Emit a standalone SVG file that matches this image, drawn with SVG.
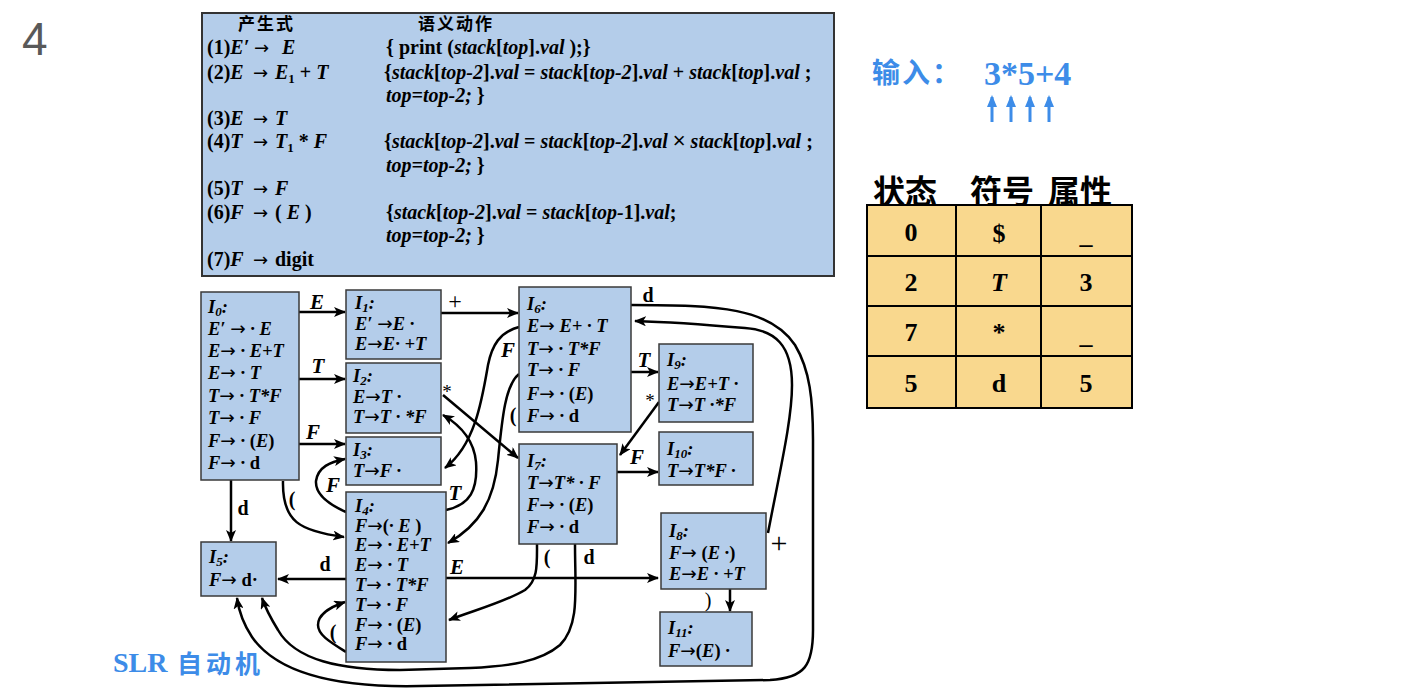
<svg xmlns="http://www.w3.org/2000/svg" width="1410" height="696" viewBox="0 0 1410 696">
<style>
.pt{font-family:"Liberation Serif",serif;font-weight:bold;font-size:20px;fill:#000}
.i{font-style:italic}
.u{font-style:normal}
.ar{font-family:"DejaVu Sans",sans-serif;font-weight:normal;font-style:normal}
.cjk{font-family:"Liberation Serif","Noto Sans CJK SC",sans-serif;font-weight:bold}
.bx{font-family:"Liberation Serif",serif;font-weight:bold;font-style:italic;font-size:18.5px;fill:#000}
.s{font-size:13px}
.node{fill:#b4cdea;stroke:#3a3a3a;stroke-width:1.5}
.lbl{font-family:"Liberation Serif",serif;font-weight:bold;font-style:italic;font-size:21px;fill:#000}
.lbu{font-family:"Liberation Serif",serif;font-weight:bold;font-size:20px;fill:#000}
.sym{font-family:"Liberation Serif",serif;font-weight:normal;fill:#000}
.edge{fill:none;stroke:#000;stroke-width:2.5}
.cell{fill:#f9d88e;stroke:#000;stroke-width:2}
.ct{font-family:"Liberation Serif",serif;font-weight:bold;font-size:26px;text-anchor:middle;fill:#000}
.hd{font-family:"Noto Sans CJK SC",sans-serif;font-weight:bold;font-size:32px;fill:#000}
.blue{fill:#3d8ce8}
</style>
<defs>
<marker id="a" viewBox="0 0 12 10" refX="11" refY="5" markerWidth="12" markerHeight="10" orient="auto" markerUnits="userSpaceOnUse"><path d="M0,0 L12,5 L0,10 L3,5 Z" fill="#000"/></marker>
<marker id="b" viewBox="0 0 12 10" refX="10" refY="5" markerWidth="12" markerHeight="10" orient="auto" markerUnits="userSpaceOnUse"><path d="M0,0 L12,5 L0,10 Z" fill="#3d8ce8"/></marker>
</defs>

<text x="22" y="55" font-family="Liberation Sans, sans-serif" font-size="46" fill="#595959">4</text>

<g id="productions">
<rect x="202" y="13" width="632" height="263" fill="#b4cdea" stroke="#333" stroke-width="2"/>
<text class="cjk" x="238" y="30" font-size="17" letter-spacing="2">产生式</text>
<text class="cjk" x="418" y="30" font-size="17" letter-spacing="2">语义动作</text>
<text class="pt" y="54"><tspan x="207">(1)</tspan><tspan class="i">E′</tspan><tspan x="254" class="ar" font-size="18">→</tspan><tspan x="282" class="i">E</tspan></text>
<text class="pt" x="386" y="54">{ print (<tspan class="i">stack</tspan>[<tspan class="i">top</tspan>].<tspan class="i">val</tspan> );}</text>
<text class="pt" y="79"><tspan x="207">(2)</tspan><tspan class="i">E</tspan><tspan x="253" class="ar" font-size="18">→</tspan><tspan x="275" class="i">E</tspan><tspan class="s" dy="4">1</tspan><tspan dy="-4"> + </tspan><tspan class="i">T</tspan></text>
<text class="pt" x="384" y="79">{<tspan class="i">stack</tspan>[<tspan class="i">top-2</tspan>].<tspan class="i">val</tspan> = <tspan class="i">stack</tspan>[<tspan class="i">top-2</tspan>].<tspan class="i">val</tspan> + <tspan class="i">stack</tspan>[<tspan class="i">top</tspan>].<tspan class="i">val</tspan> ;</text>
<text class="pt" x="386" y="102"><tspan class="i">top=top-2;</tspan> }</text>
<text class="pt" y="125"><tspan x="207">(3)</tspan><tspan class="i">E</tspan><tspan x="253" class="ar" font-size="18">→</tspan><tspan x="275" class="i">T</tspan></text>
<text class="pt" y="148"><tspan x="207">(4)</tspan><tspan class="i">T</tspan><tspan x="253" class="ar" font-size="18">→</tspan><tspan x="275" class="i">T</tspan><tspan class="s" dy="4">1</tspan><tspan dy="-4"> * </tspan><tspan class="i">F</tspan></text>
<text class="pt" x="384" y="148">{<tspan class="i">stack</tspan>[<tspan class="i">top-2</tspan>].<tspan class="i">val</tspan> = <tspan class="i">stack</tspan>[<tspan class="i">top-2</tspan>].<tspan class="i">val</tspan> <tspan font-family="Liberation Sans, sans-serif" font-weight="normal" font-size="22">×</tspan> <tspan class="i">stack</tspan>[<tspan class="i">top</tspan>].<tspan class="i">val</tspan> ;</text>
<text class="pt" x="386" y="172"><tspan class="i">top=top-2;</tspan> }</text>
<text class="pt" y="195"><tspan x="207">(5)</tspan><tspan class="i">T</tspan><tspan x="253" class="ar" font-size="18">→</tspan><tspan x="275" class="i">F</tspan></text>
<text class="pt" y="219"><tspan x="207">(6)</tspan><tspan class="i">F</tspan><tspan x="253" class="ar" font-size="18">→</tspan><tspan x="275">( </tspan><tspan class="i">E</tspan><tspan> )</tspan></text>
<text class="pt" x="386" y="219">{<tspan class="i">stack</tspan>[<tspan class="i">top-2</tspan>].<tspan class="i">val</tspan> = <tspan class="i">stack</tspan>[<tspan class="i">top-</tspan>1].<tspan class="i">val</tspan>;</text>
<text class="pt" x="386" y="242"><tspan class="i">top=top-2;</tspan> }</text>
<text class="pt" y="266"><tspan x="207">(7)</tspan><tspan class="i">F</tspan><tspan x="253" class="ar" font-size="18">→</tspan><tspan x="275">digit</tspan></text>
</g>

<g id="connectors">
<path class="edge" d="M299,312 H345" marker-end="url(#a)"/>
<path class="edge" d="M299,379 H345" marker-end="url(#a)"/>
<path class="edge" d="M299,444 H345" marker-end="url(#a)"/>
<path class="edge" d="M231,480 V541" marker-end="url(#a)"/>
<path class="edge" d="M283,481 C282,522 300,531 344,537" marker-end="url(#a)"/>
<path class="edge" d="M441,313 H518" marker-end="url(#a)"/>
<path class="edge" d="M443,395 L518,458" marker-end="url(#a)"/>
<path class="edge" d="M446,510 C470,505 478,490 476,462 C474,440 460,425 443,415" marker-end="url(#a)"/>
<path class="edge" d="M346,512 C330,505 315,495 316,481 C318,467 330,462 345,459" marker-end="url(#a)"/>
<path class="edge" d="M519,327 C500,332 492,345 488,365 C482,400 475,445 445,468" marker-end="url(#a)"/>
<path class="edge" d="M519,374 C505,385 502,420 498,460 C494,500 480,525 448,543" marker-end="url(#a)"/>
<path class="edge" d="M631,372 H658" marker-end="url(#a)"/>
<path class="edge" d="M659,402 L620,455" marker-end="url(#a)"/>
<path class="edge" d="M617,472 H658" marker-end="url(#a)"/>
<path class="edge" d="M631,305 C720,305 770,308 795,345 C810,370 813,400 813,440 L813,630 C813,665 805,678 770,680 L420,686 C330,688 275,670 252,637 C244,625 239,612 237,598" marker-end="url(#a)"/>
<path class="edge" d="M768,533 C780,470 792,420 792,385 C792,345 775,330 745,328 C710,325 670,322 635,321" marker-end="url(#a)"/>
<path class="edge" d="M446,578 H658" marker-end="url(#a)"/>
<path class="edge" d="M346,579 H278" marker-end="url(#a)"/>
<path class="edge" d="M730,589 V611" marker-end="url(#a)"/>
<path class="edge" d="M537,544 C537,565 538,580 525,590 C505,602 475,610 449,620" marker-end="url(#a)"/>
<path class="edge" d="M575,544 C575,590 580,625 560,645 C540,662 510,666 470,668 L400,670 C340,670 295,660 278,630 C270,617 265,607 262,598" marker-end="url(#a)"/>
<path class="edge" d="M346,652 C330,642 318,635 318,625 C318,615 330,607 345,602" marker-end="url(#a)"/>
<text class="lbl" x="317" y="309" text-anchor="middle">E</text>
<text class="lbl" x="318" y="373" text-anchor="middle">T</text>
<text class="lbl" x="313" y="439" text-anchor="middle">F</text>
<text class="lbu" x="243" y="515" text-anchor="middle">d</text>
<text class="lbu" x="292" y="506" text-anchor="middle">(</text>
<text class="sym" x="455" y="309" text-anchor="middle" style="font-size:24px">+</text>
<text class="sym" x="447" y="398" text-anchor="middle" style="font-size:19px">*</text>
<text class="lbl" x="455" y="500" text-anchor="middle">T</text>
<text class="lbl" x="333" y="492" text-anchor="middle">F</text>
<text class="lbl" x="508" y="357" text-anchor="middle">F</text>
<text class="lbu" x="513" y="422" text-anchor="middle">(</text>
<text class="lbl" x="644" y="367" text-anchor="middle">T</text>
<text class="sym" x="650" y="407" text-anchor="middle" style="font-size:19px">*</text>
<text class="lbl" x="637" y="464" text-anchor="middle">F</text>
<text class="lbu" x="648" y="302" text-anchor="middle">d</text>
<text class="sym" x="779" y="553" text-anchor="middle" style="font-size:30px">+</text>
<text class="lbl" x="457" y="574" text-anchor="middle">E</text>
<text class="lbu" x="325" y="571" text-anchor="middle">d</text>
<text class="sym" x="708" y="607" text-anchor="middle" style="font-size:20px">)</text>
<text class="lbu" x="547" y="564" text-anchor="middle">(</text>
<text class="lbu" x="589" y="564" text-anchor="middle">d</text>
<text class="lbu" x="333" y="639" text-anchor="middle">(</text>
</g>

<g id="I0">
<rect class="node" x="201" y="292" width="98" height="188"/>
<text class="bx" x="208" y="313">I<tspan class="s" dy="3">0</tspan><tspan dy="-3">:</tspan></text>
<text class="bx" x="208" y="335">E′ <tspan class="ar">→</tspan> · E</text>
<text class="bx" x="208" y="357">E<tspan class="ar">→</tspan> · E+T</text>
<text class="bx" x="208" y="379">E<tspan class="ar">→</tspan> · T</text>
<text class="bx" x="208" y="402">T<tspan class="ar">→</tspan> · T*F</text>
<text class="bx" x="208" y="424">T<tspan class="ar">→</tspan> · F</text>
<text class="bx" x="208" y="447">F<tspan class="ar">→</tspan> · <tspan class="u">(</tspan>E<tspan class="u">)</tspan></text>
<text class="bx" x="208" y="469">F<tspan class="ar">→</tspan> · <tspan class="u">d</tspan></text>
</g>
<g id="I1">
<rect class="node" x="346" y="290" width="95" height="69"/>
<text class="bx" x="355" y="309">I<tspan class="s" dy="3">1</tspan><tspan dy="-3">:</tspan></text>
<text class="bx" x="355" y="330">E′ <tspan class="ar">→</tspan>E ·</text>
<text class="bx" x="355" y="350">E<tspan class="ar">→</tspan>E· +T</text>
</g>
<g id="I2">
<rect class="node" x="346" y="363" width="95" height="70"/>
<text class="bx" x="353" y="382">I<tspan class="s" dy="3">2</tspan><tspan dy="-3">:</tspan></text>
<text class="bx" x="353" y="403">E<tspan class="ar">→</tspan>T ·</text>
<text class="bx" x="353" y="423">T<tspan class="ar">→</tspan>T · *F</text>
</g>
<g id="I3">
<rect class="node" x="346" y="437" width="95" height="48"/>
<text class="bx" x="353" y="456">I<tspan class="s" dy="3">3</tspan><tspan dy="-3">:</tspan></text>
<text class="bx" x="353" y="477">T<tspan class="ar">→</tspan>F ·</text>
</g>
<g id="I4">
<rect class="node" x="346" y="492" width="100" height="170"/>
<text class="bx" x="355" y="512">I<tspan class="s" dy="3">4</tspan><tspan dy="-3">:</tspan></text>
<text class="bx" x="355" y="532">F<tspan class="ar">→</tspan><tspan class="u">(</tspan>· E <tspan class="u">)</tspan></text>
<text class="bx" x="355" y="551">E<tspan class="ar">→</tspan> · E+T</text>
<text class="bx" x="355" y="571">E<tspan class="ar">→</tspan> · T</text>
<text class="bx" x="355" y="591">T<tspan class="ar">→</tspan> · T*F</text>
<text class="bx" x="355" y="611">T<tspan class="ar">→</tspan> · F</text>
<text class="bx" x="355" y="631">F<tspan class="ar">→</tspan> · <tspan class="u">(</tspan>E<tspan class="u">)</tspan></text>
<text class="bx" x="355" y="650">F<tspan class="ar">→</tspan> · <tspan class="u">d</tspan></text>
</g>
<g id="I5">
<rect class="node" x="201" y="542" width="75" height="54"/>
<text class="bx" x="209" y="563">I<tspan class="s" dy="3">5</tspan><tspan dy="-3">:</tspan></text>
<text class="bx" x="209" y="586">F<tspan class="ar">→</tspan> <tspan class="u">d·</tspan></text>
</g>
<g id="I6">
<rect class="node" x="519" y="287" width="112" height="145"/>
<text class="bx" x="527" y="310">I<tspan class="s" dy="3">6</tspan><tspan dy="-3">:</tspan></text>
<text class="bx" x="527" y="332">E<tspan class="ar">→</tspan> E+ · T</text>
<text class="bx" x="527" y="355">T<tspan class="ar">→</tspan> · T*F</text>
<text class="bx" x="527" y="376">T<tspan class="ar">→</tspan> · F</text>
<text class="bx" x="527" y="400">F<tspan class="ar">→</tspan> · <tspan class="u">(</tspan>E<tspan class="u">)</tspan></text>
<text class="bx" x="527" y="422">F<tspan class="ar">→</tspan> · <tspan class="u">d</tspan></text>
</g>
<g id="I7">
<rect class="node" x="519" y="444" width="98" height="100"/>
<text class="bx" x="527" y="467">I<tspan class="s" dy="3">7</tspan><tspan dy="-3">:</tspan></text>
<text class="bx" x="527" y="489">T<tspan class="ar">→</tspan>T* · F</text>
<text class="bx" x="527" y="511">F<tspan class="ar">→</tspan> · <tspan class="u">(</tspan>E<tspan class="u">)</tspan></text>
<text class="bx" x="527" y="533">F<tspan class="ar">→</tspan> · <tspan class="u">d</tspan></text>
</g>
<g id="I9">
<rect class="node" x="659" y="344" width="94" height="78"/>
<text class="bx" x="667" y="366">I<tspan class="s" dy="3">9</tspan><tspan dy="-3">:</tspan></text>
<text class="bx" x="667" y="390">E<tspan class="ar">→</tspan>E+T ·</text>
<text class="bx" x="667" y="411">T<tspan class="ar">→</tspan>T ·*F</text>
</g>
<g id="I10">
<rect class="node" x="659" y="432" width="94" height="53"/>
<text class="bx" x="667" y="455">I<tspan class="s" dy="3">10</tspan><tspan dy="-3">:</tspan></text>
<text class="bx" x="667" y="477">T<tspan class="ar">→</tspan>T*F ·</text>
</g>
<g id="I8">
<rect class="node" x="661" y="513" width="105" height="76"/>
<text class="bx" x="669" y="537">I<tspan class="s" dy="3">8</tspan><tspan dy="-3">:</tspan></text>
<text class="bx" x="669" y="559">F<tspan class="ar">→</tspan> <tspan class="u">(</tspan>E ·<tspan class="u">)</tspan></text>
<text class="bx" x="669" y="580">E<tspan class="ar">→</tspan>E · +T</text>
</g>
<g id="I11">
<rect class="node" x="660" y="612" width="92" height="54"/>
<text class="bx" x="668" y="634">I<tspan class="s" dy="3">11</tspan><tspan dy="-3">:</tspan></text>
<text class="bx" x="668" y="657">F<tspan class="ar">→</tspan><tspan class="u">(</tspan>E<tspan class="u">)</tspan> ·</text>
</g>

<g id="input">
<text class="cjk blue" x="872" y="83" font-size="28" letter-spacing="2">输入：</text>
<text x="984" y="85" font-family="Liberation Serif, serif" font-weight="bold" font-size="34" class="blue">3*5+4</text>
<g stroke="#3d8ce8" stroke-width="3">
<line x1="992" y1="122" x2="992" y2="97" marker-end="url(#b)"/>
<line x1="1011" y1="122" x2="1011" y2="97" marker-end="url(#b)"/>
<line x1="1030" y1="122" x2="1030" y2="97" marker-end="url(#b)"/>
<line x1="1049" y1="122" x2="1049" y2="97" marker-end="url(#b)"/>
</g>
</g>

<g id="stack-table">
<text class="hd" x="873" y="203">状态</text>
<text class="hd" x="970" y="203">符号</text>
<text class="hd" x="1048" y="203">属性</text>
<rect class="cell" x="867" y="205" width="89" height="51"/>
<rect class="cell" x="956" y="205" width="85" height="51"/>
<rect class="cell" x="1041" y="205" width="91" height="51"/>
<rect class="cell" x="867" y="256" width="89" height="50"/>
<rect class="cell" x="956" y="256" width="85" height="50"/>
<rect class="cell" x="1041" y="256" width="91" height="50"/>
<rect class="cell" x="867" y="306" width="89" height="50"/>
<rect class="cell" x="956" y="306" width="85" height="50"/>
<rect class="cell" x="1041" y="306" width="91" height="50"/>
<rect class="cell" x="867" y="356" width="89" height="52"/>
<rect class="cell" x="956" y="356" width="85" height="52"/>
<rect class="cell" x="1041" y="356" width="91" height="52"/>
<text class="ct" x="911" y="241">0</text>
<text class="ct" x="999" y="242">$</text>
<text class="ct" x="1086" y="243">_</text>
<text class="ct" x="911" y="291">2</text>
<text class="ct i" x="999" y="291">T</text>
<text class="ct" x="1086" y="291">3</text>
<text class="ct" x="911" y="341">7</text>
<text class="ct" x="999" y="341">*</text>
<text class="ct" x="1086" y="343">_</text>
<text class="ct" x="911" y="392">5</text>
<text class="ct" x="999" y="392">d</text>
<text class="ct" x="1086" y="392">5</text>
</g>

<g id="title">
<text x="113" y="672" font-family="Liberation Serif, serif" font-weight="bold" font-size="28" class="blue">SLR</text>
<text class="cjk blue" x="177" y="673" font-size="25" letter-spacing="4">自动机</text>
</g>
</svg>
